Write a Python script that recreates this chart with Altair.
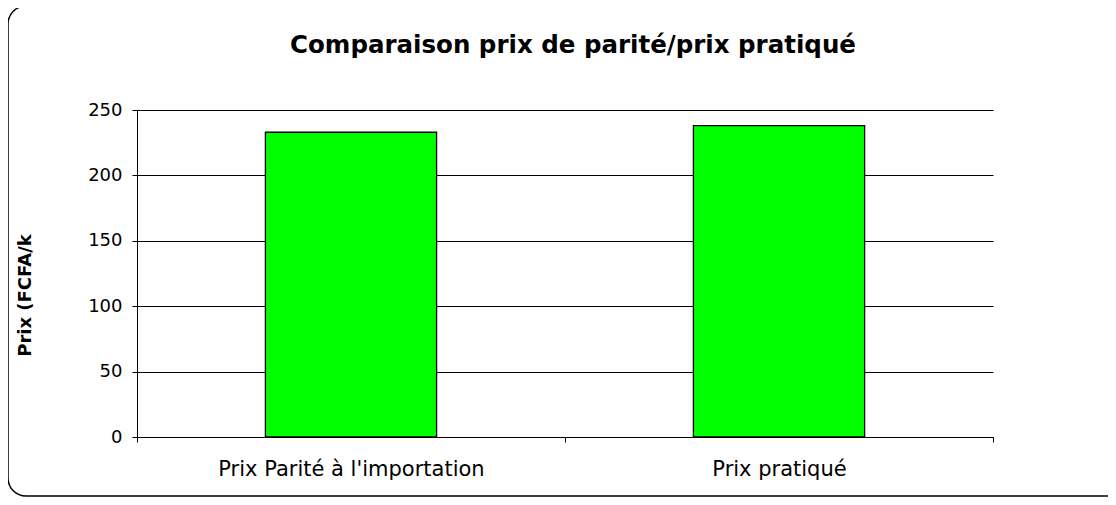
import altair as alt
import pandas as pd

categories = ["Prix Parité à l'importation", "Prix pratiqué"]
values = [233, 238]

df = pd.DataFrame({"cat": categories, "val": values})

W, H = 856, 327
PL, PT = 129, 102
PR = 1100 - PL - W
PB = 489 - PT - H

frame = alt.Chart(pd.DataFrame({"a": [0]})).mark_rect(
    fill=None, stroke="black", strokeWidth=1.5, cornerRadius=18
).encode(
    x=alt.value(-129), x2=alt.value(W + 131),
    y=alt.value(-104), y2=alt.value(H + PB - 1),
)

bars = alt.Chart(df).mark_bar(
    color="#00ff00", stroke="black", strokeWidth=1.3, width=alt.RelativeBandSize(0.4)
).encode(
    x=alt.X("cat:N", sort=categories, title=None,
            scale=alt.Scale(paddingInner=0, paddingOuter=0),
            axis=alt.Axis(labelAngle=0, labelFontSize=21, labelFont="DejaVu Sans",
                          labelColor="black", labelPadding=16, labelLimit=500,
                          domainColor="black",
                          tickBand="extent", tickColor="black", tickSize=5,
                          labelFontWeight="normal")),
    y=alt.Y("val:Q", title="Prix (FCFA/k",
            scale=alt.Scale(domain=[0, 250], nice=False),
            axis=alt.Axis(values=[0, 50, 100, 150, 200, 250], labelFontSize=18,
                          labelFont="DejaVu Sans", labelColor="black",
                          labelPadding=10, tickColor="black", tickSize=5,
                          domainColor="black", gridColor="black", gridWidth=1,
                          titleFont="DejaVu Sans", titleFontSize=18,
                          titleFontWeight="bold", titleColor="black",
                          titleAngle=-90, titleX=-112, titleY=185,
                          titleAlign="center", titleBaseline="middle")),
)

chart = alt.layer(frame, bars).properties(
    width=W, height=H,
    autosize=alt.AutoSizeParams(type="none"),
    padding={"left": PL, "top": PT, "right": PR, "bottom": PB},
    title=alt.TitleParams("Comparaison prix de parité/prix pratiqué",
                          font="DejaVu Sans", fontSize=24.5, fontWeight="bold",
                          color="black", anchor="middle", frame="group",
                          dx=8, offset=-53),
).configure_view(stroke=None).configure_axis(grid=False).configure_axisY(grid=True)

chart.save("out.html", embed_options={"renderer": "svg", "actions": False})
